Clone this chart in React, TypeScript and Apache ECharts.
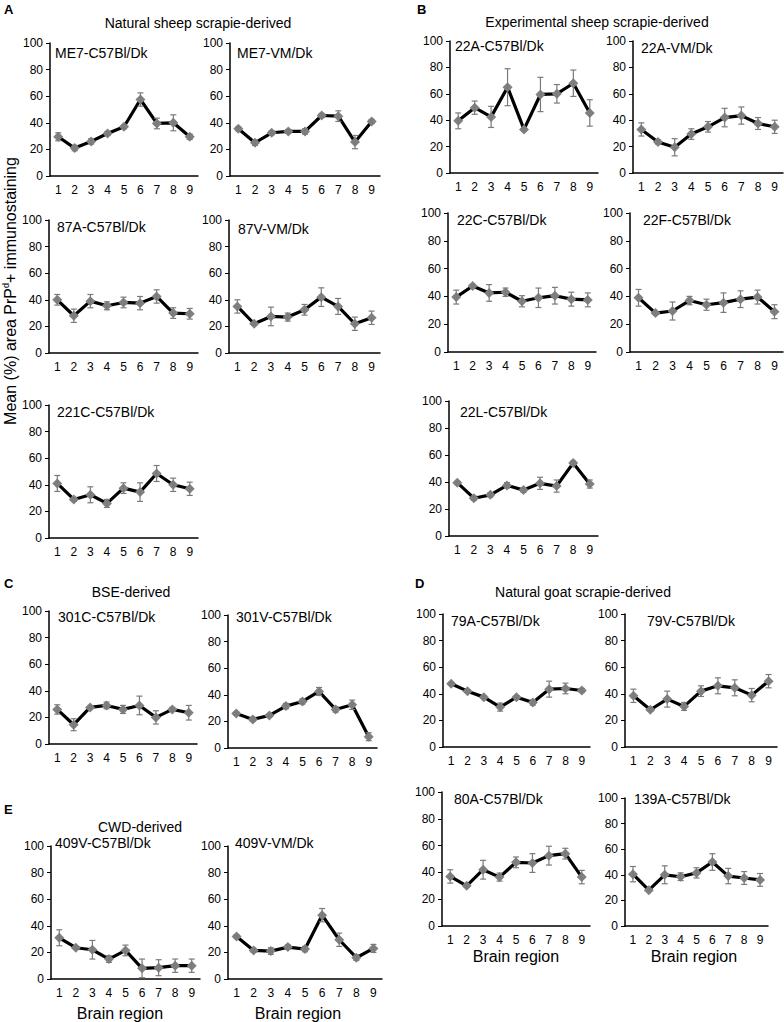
import React, { useEffect, useRef } from "react";
import * as echarts from "echarts";

const regions = ["1", "2", "3", "4", "5", "6", "7", "8", "9"];
const yTickValues = [0, 20, 40, 60, 80, 100];

const me7C57Mean = [29.5, 21, 26, 32, 37, 57.5, 39.5, 40, 29.5];
const me7C57Err = [3, 2, 2, 1.5, 1.5, 5, 4, 6, 2];
const me7VMMean = [35.5, 25, 32.5, 33.5, 33.5, 45.5, 45, 25.5, 41];
const me7VMErr = [1.5, 2, 1.5, 1.5, 2, 1.5, 4, 5, 1.5];
const a87C57Mean = [40, 28, 39, 35.5, 38, 37.5, 42.5, 30, 29.5];
const a87C57Err = [4, 5, 5, 3, 4, 5, 5, 4, 4];
const v87VMMean = [35, 22, 27.5, 27, 32.5, 42, 35, 22, 26.5];
const v87VMErr = [5, 1, 7, 3, 4, 7, 6, 5, 5];
const c221Mean = [41, 29, 32.5, 26, 37.5, 34.5, 48.5, 40, 37];
const c221Err = [6, 1.5, 6, 3, 4, 7, 6, 5, 5];

const a22C57Mean = [39.5, 49.5, 42.5, 65, 33, 59.5, 60, 68, 45.5];
const a22C57Err = [6, 5, 8, 14, 1, 13, 7, 10, 10];
const a22VMMean = [33, 23.5, 19.5, 29.5, 35, 42, 43.5, 37.5, 35];
const a22VMErr = [5, 1.5, 6.5, 4, 4, 7, 6.5, 4.5, 5];
const c22Mean = [39.5, 47.5, 42.5, 43, 36.5, 39, 40.5, 38, 37.5];
const c22Err = [5, 1, 6, 3, 4, 7, 6, 5, 5];
const f22Mean = [39, 28, 29.5, 37, 34, 35.5, 38, 39.5, 29];
const f22Err = [6, 1, 6.5, 3, 4, 7, 6, 5, 5];
const l22Mean = [39.5, 28, 30.5, 37.5, 34, 39, 37, 54, 38.5];
const l22Err = [1, 1.5, 1.5, 2, 1.5, 4.5, 4.5, 1.5, 3];

const c301Mean = [26, 14.5, 27.5, 29, 26, 29, 20, 26, 23.5];
const c301Err = [3.5, 4.5, 1, 2.5, 3, 7, 5, 1.5, 5.5];
const v301Mean = [26, 21.5, 24.5, 31.5, 35, 42.5, 29, 32.5, 8.5];
const v301Err = [1, 1.5, 1, 2, 2, 3, 2, 3.5, 3];

const a79Mean = [47.5, 42, 37.5, 30, 37.5, 33.5, 43.5, 44, 42.5];
const a79Err = [1, 1, 1, 3, 1, 2, 6, 4, 1.5];
const v79Mean = [38.5, 28, 36, 30.5, 42, 46, 44.5, 39, 49.5];
const v79Err = [5, 1, 6, 3, 4, 6, 6, 5, 5];
const a80Mean = [37, 30, 42, 36.5, 47.5, 47, 52.5, 54, 36.5];
const a80Err = [5, 1, 7, 3, 4, 7, 7, 4, 5];
const a139Mean = [40.5, 28, 40, 38.5, 41.5, 50, 39, 37.5, 36];
const a139Err = [6, 1, 7, 3, 4, 6.5, 6, 5, 5];

const v409C57Mean = [31, 23.5, 22, 15, 21.5, 8, 8.5, 10, 10];
const v409C57Err = [6, 1, 7, 2.5, 4, 7, 6, 5, 5];
const v409VMMean = [32, 21.5, 21, 24, 22.5, 48, 29.5, 16, 23];
const v409VMErr = [1, 1.5, 2.5, 1.5, 2, 5, 5, 2, 3];

const panels = [
  { name: "ME7-C57Bl/Dk", mean: me7C57Mean, err: me7C57Err, l: 50, t: 43, r: 198, b: 176, lx: 55, ly: 53 },
  { name: "ME7-VM/Dk", mean: me7VMMean, err: me7VMErr, l: 230, t: 43, r: 380, b: 176, lx: 237, ly: 53 },
  { name: "87A-C57Bl/Dk", mean: a87C57Mean, err: a87C57Err, l: 49, t: 220, r: 198, b: 353, lx: 57, ly: 227 },
  { name: "87V-VM/Dk", mean: v87VMMean, err: v87VMErr, l: 229, t: 220, r: 380, b: 353, lx: 238, ly: 229 },
  { name: "221C-C57Bl/Dk", mean: c221Mean, err: c221Err, l: 49, t: 405, r: 198, b: 538, lx: 57, ly: 412 },
  { name: "22A-C57Bl/Dk", mean: a22C57Mean, err: a22C57Err, l: 450, t: 41, r: 598, b: 173, lx: 455, ly: 46 },
  { name: "22A-VM/Dk", mean: a22VMMean, err: a22VMErr, l: 633, t: 41, r: 783, b: 173, lx: 641, ly: 48 },
  { name: "22C-C57Bl/Dk", mean: c22Mean, err: c22Err, l: 448, t: 213, r: 596, b: 352, lx: 457, ly: 220 },
  { name: "22F-C57Bl/Dk", mean: f22Mean, err: f22Err, l: 630, t: 213, r: 783, b: 352, lx: 643, ly: 220 },
  { name: "22L-C57Bl/Dk", mean: l22Mean, err: l22Err, l: 449, t: 401, r: 598, b: 536, lx: 460, ly: 412 },
  { name: "301C-C57Bl/Dk", mean: c301Mean, err: c301Err, l: 49, t: 611, r: 197, b: 744, lx: 58, ly: 617 },
  { name: "301V-C57Bl/Dk", mean: v301Mean, err: v301Err, l: 228, t: 615, r: 377, b: 748, lx: 236, ly: 617 },
  { name: "79A-C57Bl/Dk", mean: a79Mean, err: a79Err, l: 443, t: 614, r: 590, b: 747, lx: 451, ly: 621 },
  { name: "79V-C57Bl/Dk", mean: v79Mean, err: v79Err, l: 625, t: 614, r: 777, b: 747, lx: 647, ly: 621 },
  { name: "80A-C57Bl/Dk", mean: a80Mean, err: a80Err, l: 442, t: 792, r: 590, b: 926, lx: 454, ly: 799 },
  { name: "139A-C57Bl/Dk", mean: a139Mean, err: a139Err, l: 625, t: 798, r: 768, b: 926, lx: 634, ly: 799 },
  { name: "409V-C57Bl/Dk", mean: v409C57Mean, err: v409C57Err, l: 51, t: 846, r: 200, b: 979, lx: 55, ly: 843 },
  { name: "409V-VM/Dk", mean: v409VMMean, err: v409VMErr, l: 228, t: 846, r: 382, b: 979, lx: 235, ly: 843 },
];

const FONT = "'Liberation Sans', Arial, sans-serif";

function txt(x: number, y: number, text: string, size: number, align = "left", weight = "normal") {
  return {
    type: "text",
    x,
    y,
    silent: true,
    style: {
      text,
      fill: "#000",
      fontSize: size,
      fontFamily: FONT,
      fontWeight: weight,
      align,
      verticalAlign: "middle",
      textAlign: align,
      textVerticalAlign: "middle",
    },
  };
}

export default function App() {
  const ref = useRef<HTMLDivElement>(null);
  useEffect(() => {
    if (!ref.current) return;
    const chart = echarts.init(ref.current, undefined, { renderer: "svg" });
    const grids: any[] = [];
    const xAxes: any[] = [];
    const yAxes: any[] = [];
    const series: any[] = [];
    const graphics: any[] = [];
    panels.forEach((p, i) => {
      grids.push({ left: p.l, top: p.t, width: p.r - p.l, height: p.b - p.t, containLabel: false });
      xAxes.push({
        type: "category",
        gridIndex: i,
        data: regions,
        boundaryGap: true,
        axisLine: { show: true, lineStyle: { color: "#000", width: 1.5 } },
        axisTick: { show: false },
        axisLabel: { color: "#000", fontSize: 12, fontFamily: FONT, margin: 8 },
        splitLine: { show: false },
      });
      yAxes.push({
        type: "value",
        gridIndex: i,
        min: yTickValues[0],
        max: yTickValues[yTickValues.length - 1],
        interval: 20,
        axisLine: { show: true, lineStyle: { color: "#000", width: 1.5 } },
        axisTick: { show: true, length: 4, lineStyle: { color: "#000" } },
        axisLabel: { color: "#000", fontSize: 12, fontFamily: FONT, margin: 7 },
        splitLine: { show: false },
      });
      series.push({
        type: "line",
        xAxisIndex: i,
        yAxisIndex: i,
        data: p.mean,
        symbol: "diamond",
        symbolSize: 10,
        lineStyle: { color: "#000", width: 3.2 },
        itemStyle: { color: "#808080" },
        z: 2,
      });
      series.push({
        type: "custom",
        xAxisIndex: i,
        yAxisIndex: i,
        encode: { x: 0, y: [1, 2] },
        data: p.mean.map((m, j) => [j, m - p.err[j], m + p.err[j]]),
        z: 3,
        renderItem: (params: any, api: any) => {
          const x = api.value(0);
          const lo = api.coord([x, api.value(1)]);
          const hi = api.coord([x, api.value(2)]);
          const st = { stroke: "#7a7a7a", lineWidth: 1.2 };
          return {
            type: "group",
            children: [
              { type: "line", shape: { x1: lo[0], y1: lo[1], x2: hi[0], y2: hi[1] }, style: st },
              { type: "line", shape: { x1: lo[0] - 3, y1: lo[1], x2: lo[0] + 3, y2: lo[1] }, style: st },
              { type: "line", shape: { x1: hi[0] - 3, y1: hi[1], x2: hi[0] + 3, y2: hi[1] }, style: st },
            ],
          };
        },
      });
      graphics.push(txt(p.lx, p.ly, p.name, 14));
    });

    graphics.push(txt(4, 9, "A", 13, "left", "bold"));
    graphics.push(txt(417, 9, "B", 13, "left", "bold"));
    graphics.push(txt(4, 583, "C", 13, "left", "bold"));
    graphics.push(txt(415, 583, "D", 13, "left", "bold"));
    graphics.push(txt(4, 809, "E", 13, "left", "bold"));
    graphics.push(txt(198, 23, "Natural sheep scrapie-derived", 14, "center"));
    graphics.push(txt(597, 22, "Experimental sheep scrapie-derived", 14, "center"));
    graphics.push(txt(131, 592, "BSE-derived", 14, "center"));
    graphics.push(txt(583, 592, "Natural goat scrapie-derived", 14, "center"));
    graphics.push(txt(140, 827, "CWD-derived", 14, "center"));
    graphics.push(txt(516, 956, "Brain region", 16, "center"));
    graphics.push(txt(694, 956, "Brain region", 16, "center"));
    graphics.push(txt(120, 1013, "Brain region", 16, "center"));
    graphics.push(txt(298, 1013, "Brain region", 16, "center"));
    graphics.push({
      type: "text",
      x: 10,
      y: 291,
      rotation: Math.PI / 2,
      silent: true,
      style: {
        text: "Mean (%) area PrP{s|d}+ immunostaining",
        fill: "#000",
        fontSize: 16,
        fontFamily: FONT,
        align: "center",
        verticalAlign: "middle",
        textAlign: "center",
        textVerticalAlign: "middle",
        rich: {
          s: { fontSize: 9, fontFamily: FONT, fill: "#000", verticalAlign: "top", lineHeight: 18 },
        },
      },
    });

    chart.setOption({
      animation: false,
      backgroundColor: "#fff",
      grid: grids,
      xAxis: xAxes,
      yAxis: yAxes,
      series,
      graphic: { elements: graphics },
    });
    return () => chart.dispose();
  }, []);
  return (
    <div
      ref={ref}
      style={{ position: "absolute", left: 0, top: 0, width: 784, height: 1022, background: "#fff" }}
    />
  );
}
